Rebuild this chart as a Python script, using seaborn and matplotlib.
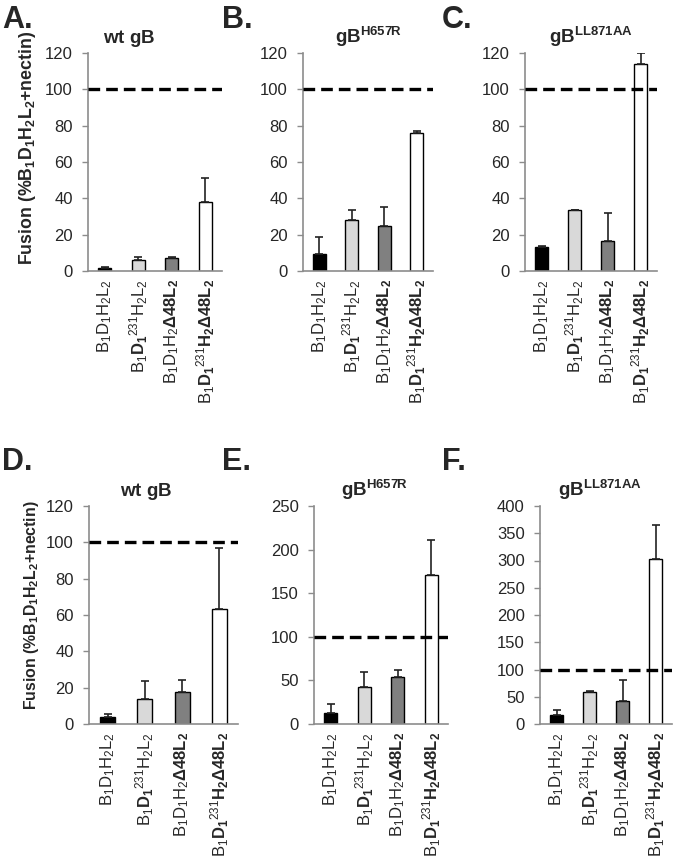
import numpy as np
import matplotlib
matplotlib.use('Agg')
import matplotlib.pyplot as plt
import seaborn as sns

sns.set_style('white')
plt.rcParams['font.family'] = ['Liberation Sans', 'DejaVu Sans']
plt.rcParams['mathtext.fontset'] = 'custom'
plt.rcParams['mathtext.rm'] = 'Liberation Sans'
plt.rcParams['mathtext.it'] = 'Liberation Sans'
plt.rcParams['mathtext.bf'] = 'Liberation Sans:bold'

# x categories (same in every panel)
categories = [
    r'$\mathrm{B_1D_1H_2L_2}$',
    r'$\mathrm{B_1}\mathbf{D_1}^{\mathrm{231}}\mathrm{H_2L_2}$',
    r'$\mathrm{B_1D_1H_2}\mathbf{\Delta 48L_2}$',
    r'$\mathrm{B_1}\mathbf{D_1}^{\mathrm{231}}\mathbf{H_2\Delta 48L_2}$',
]
bar_colors = ['#000000', '#d9d9d9', '#808080', '#ffffff']

panel_letters = ['A.', 'B.', 'C.', 'D.', 'E.', 'F.']
panel_titles = [r'$\mathbf{wt\ gB}$', r'$\mathbf{gB^{H657R}}$', r'$\mathbf{gB^{LL871AA}}$',
                r'$\mathbf{wt\ gB}$', r'$\mathbf{gB^{H657R}}$', r'$\mathbf{gB^{LL871AA}}$']

# fusion means and upper error bars, per panel
means_a = [1.5, 6.0, 7.0, 38.0]
errs_a = [0.5, 1.5, 0.5, 13.0]
means_b = [9.5, 28.0, 24.5, 76.0]
errs_b = [9.0, 5.5, 10.5, 1.0]
means_c = [13.0, 33.5, 16.5, 114.0]
errs_c = [0.5, 0.3, 15.5, 6.0]
means_d = [4.0, 14.0, 17.5, 63.5]
errs_d = [1.5, 9.5, 6.5, 33.5]
means_e = [13.0, 43.0, 53.5, 171.0]
errs_e = [10.0, 17.0, 8.5, 40.0]
means_f = [17.0, 59.0, 43.0, 302.0]
errs_f = [8.0, 1.0, 38.0, 63.0]

all_means = [means_a, means_b, means_c, means_d, means_e, means_f]
all_errs = [errs_a, errs_b, errs_c, errs_d, errs_e, errs_f]
y_max = [120, 120, 120, 120, 250, 400]
y_step = [20, 20, 20, 20, 50, 50]

W, H = 680, 861
fig = plt.figure(figsize=(W / 100, H / 100), dpi=100)

# axes boxes in pixels: left, right, top, bottom
boxes = [(88, 222, 53, 271), (303, 433, 53, 271), (525, 657, 53, 271),
         (89, 238, 506, 724), (314, 448, 506, 724), (540, 672, 506, 724)]
title_x = [0.31, 0.5, 0.5, 0.38, 0.45, 0.45]

ylabel = r'$\mathbf{Fusion\ (\%B_1D_1H_2L_2{+}nectin)}$'
grey = '#8c8c8c'

for i, (l, r, t, b) in enumerate(boxes):
    ax = fig.add_axes([l / W, 1 - b / H, (r - l) / W, (b - t) / H])
    sns.barplot(x=categories, y=all_means[i], hue=categories, palette=bar_colors,
                legend=False, edgecolor='black', linewidth=1, width=0.4, ax=ax)
    ax.errorbar(range(4), all_means[i], yerr=[np.zeros(4), all_errs[i]],
                fmt='none', ecolor='#222222', elinewidth=1.2, capsize=3, capthick=1.2)
    ax.axhline(100, color='black', ls=(0, (3.5, 1.8)), lw=2.4, zorder=5)

    ax.set_xlim(-0.5, 3.5)
    ax.set_ylim(0, y_max[i])
    ax.set_yticks(np.arange(0, y_max[i] + 1, y_step[i]))
    ax.set_xticks(np.arange(-0.5, 4, 1.0), minor=True)
    ax.tick_params(axis='x', which='major', length=0, pad=6)
    ax.tick_params(axis='x', which='minor', length=5, color=grey, width=1)
    ax.tick_params(axis='y', length=4, color=grey, width=1, labelsize=12, pad=7, left=True)
    ax.set_xticklabels(categories, rotation=90, fontsize=12, va='top', ha='center')
    for s in ['top', 'right']:
        ax.spines[s].set_visible(False)
    for s in ['left', 'bottom']:
        ax.spines[s].set_color(grey)
        ax.spines[s].set_linewidth(1.2)
    ax.set_xlabel('')
    ax.set_title(panel_titles[i], fontsize=13.5, pad=7, x=title_x[i])

    if i == 0:
        ax.set_ylabel(ylabel, fontsize=12.8)
        ax.yaxis.set_label_coords(-0.37, 0.564)
    elif i == 3:
        ax.set_ylabel(ylabel, fontsize=11.4)
        ax.yaxis.set_label_coords(-0.325, 0.546)
    else:
        ax.set_ylabel('')

    # panel letter
    lx = [2, 222, 442, 2, 222, 442][i]
    ly = [28, 28, 28, 470, 470, 470][i]
    fig.text(lx / W, 1 - ly / H, panel_letters[i], fontsize=22, fontweight='bold')

fig.savefig('out.png', dpi=100)
